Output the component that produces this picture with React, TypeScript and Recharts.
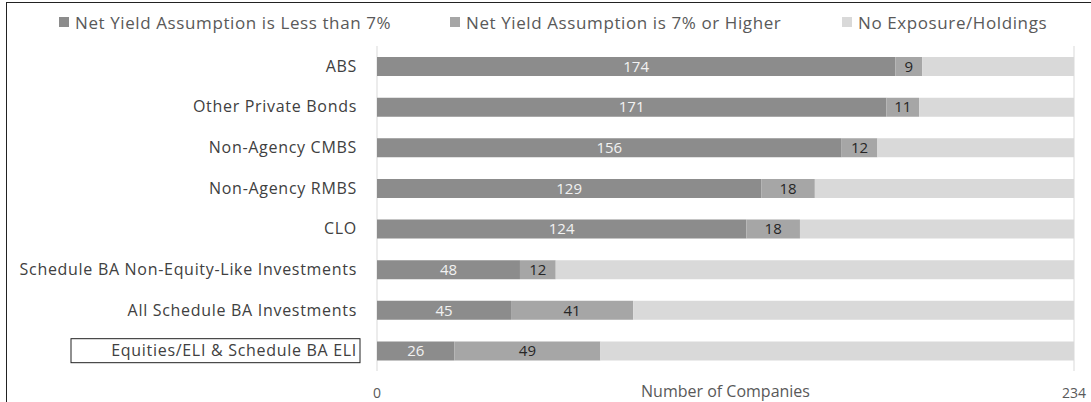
import React from "react";
import {
  BarChart,
  Bar,
  XAxis,
  YAxis,
  CartesianGrid,
  Legend,
  LabelList,
} from "recharts";

const categories = [
  "ABS",
  "Other Private Bonds",
  "Non-Agency CMBS",
  "Non-Agency RMBS",
  "CLO",
  "Schedule BA Non-Equity-Like Investments",
  "All Schedule BA Investments",
  "Equities/ELI & Schedule BA ELI",
];
const lessThan7 = [174, 171, 156, 129, 124, 48, 45, 26];
const sevenOrHigher = [9, 11, 12, 18, 18, 12, 41, 49];
const totalCompanies = 234;
const xTicks = [0, totalCompanies];

const data = categories.map((name, i) => ({
  name,
  less: lessThan7[i],
  higher: sevenOrHigher[i],
  none: totalCompanies - lessThan7[i] - sevenOrHigher[i],
}));

const FONT = "'Open Sans', 'Noto Sans', sans-serif";

const legendItems = [
  { label: "Net Yield Assumption is Less than 7%", color: "#8c8c8c", left: 59 },
  { label: "Net Yield Assumption is 7% or Higher", color: "#a6a6a6", left: 450 },
  { label: "No Exposure/Holdings", color: "#d9d9d9", left: 842 },
];

const LegendContent = () => (
  <div style={{ position: "relative", height: 41, fontFamily: FONT }}>
    {legendItems.map((it) => (
      <div
        key={it.label}
        style={{
          position: "absolute",
          left: it.left,
          top: 7,
          height: 20,
          display: "flex",
          alignItems: "center",
          fontSize: 17,
          letterSpacing: 0.6,
          color: "#595959",
          whiteSpace: "nowrap",
        }}
      >
        <span
          style={{
            width: 10,
            height: 10,
            background: it.color,
            display: "inline-block",
            marginRight: 6,
          }}
        />
        {it.label}
      </div>
    ))}
  </div>
);

const CategoryTick = ({ x, y, payload }: any) => {
  const boxed = payload.value === "Equities/ELI & Schedule BA ELI";
  return (
    <g>
      {boxed && (
        <rect
          x={x - 289}
          y={y - 12}
          width={289}
          height={24}
          fill="none"
          stroke="#222"
          strokeWidth={1}
        />
      )}
      <text
        x={x - 3}
        y={y}
        dy={5.5}
        textAnchor="end"
        fill="#404040"
        fontSize={16}
        letterSpacing={0.7}
        fontFamily={FONT}
      >
        {payload.value}
      </text>
    </g>
  );
};

const NumberTick = ({ x, y, payload }: any) => (
  <text
    x={x}
    y={y + 19}
    textAnchor="middle"
    fill="#595959"
    fontSize={14}
    fontFamily={FONT}
  >
    {payload.value}
  </text>
);

export default function App() {
  return (
    <div
      style={{
        position: "absolute",
        left: 0,
        top: 0,
        width: 1091,
        height: 402,
        background: "#fff",
      }}
    >
      <div
        style={{
          position: "absolute",
          left: 6,
          top: 2,
          right: 0,
          bottom: 0,
          borderLeft: "1.5px solid #222",
          borderTop: "1.5px solid #222",
        }}
      />
      <BarChart
        width={1091}
        height={402}
        layout="vertical"
        data={data}
        margin={{ top: 5, right: 17, bottom: 0, left: 0 }}
        barSize={19}
      >
        <Legend verticalAlign="top" content={<LegendContent />} />
        <CartesianGrid horizontal={false} stroke="#d9d9d9" />
        <XAxis
          type="number"
          domain={[0, totalCompanies]}
          ticks={xTicks}
          axisLine={false}
          tickLine={false}
          height={31}
          tick={<NumberTick />}
          label={{
            value: "Number of Companies",
            position: "insideBottom",
            offset: 5,
            fill: "#595959",
            fontSize: 16,
            fontFamily: FONT,
          }}
        />
        <YAxis
          type="category"
          dataKey="name"
          width={377}
          axisLine={false}
          tickLine={false}
          tickSize={0}
          tickMargin={17}
          tick={<CategoryTick />}
          interval={0}
        />
        <Bar dataKey="less" stackId="a" fill="#8c8c8c" isAnimationActive={false}>
          <LabelList
            dataKey="less"
            position="center"
            fill="#f2f2f2"
            fontSize={15}
            fontFamily={FONT}
          />
        </Bar>
        <Bar dataKey="higher" stackId="a" fill="#a6a6a6" isAnimationActive={false}>
          <LabelList
            dataKey="higher"
            position="center"
            fill="#262626"
            fontSize={15}
            fontFamily={FONT}
          />
        </Bar>
        <Bar dataKey="none" stackId="a" fill="#d9d9d9" isAnimationActive={false} />
      </BarChart>
    </div>
  );
}
